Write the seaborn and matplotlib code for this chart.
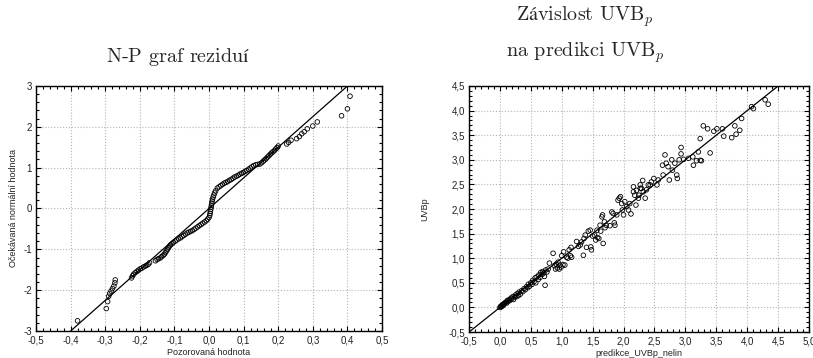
import numpy as np
import pandas as pd
import matplotlib
matplotlib.use("Agg")
import matplotlib.pyplot as plt
import seaborn as sns
from matplotlib.ticker import AutoMinorLocator

# ---------------- data: left panel (normal probability plot of residuals) ----------------
resid_x = [
    -0.380,
    -0.297, -0.293, -0.290, -0.287, -0.283, -0.279, -0.275, -0.272, -0.271,
    -0.224, -0.221, -0.218, -0.213, -0.208, -0.204, -0.199, -0.194, -0.189, -0.184, -0.180, -0.176, -0.172,
    -0.155, -0.150, -0.146, -0.141, -0.137, -0.133, -0.129, -0.126, -0.123, -0.120, -0.117, -0.114, -0.111, -0.107,
    -0.103, -0.098, -0.093, -0.088, -0.083, -0.078, -0.073, -0.068, -0.063, -0.058, -0.053, -0.048, -0.043,
    -0.038, -0.033, -0.028, -0.023, -0.018, -0.013, -0.008, -0.004,
    0.000, 0.002, 0.003, 0.004, 0.005, 0.006, 0.007, 0.008, 0.009, 0.010, 0.012, 0.014, 0.016, 0.019,
    0.024, 0.029, 0.034, 0.039, 0.044, 0.049, 0.054, 0.059, 0.064, 0.069, 0.074, 0.079, 0.084, 0.089,
    0.094, 0.099, 0.104, 0.109, 0.114, 0.119, 0.124, 0.129, 0.135, 0.141,
    0.147, 0.152, 0.157, 0.161, 0.165, 0.169, 0.173, 0.177, 0.181, 0.185, 0.189, 0.193, 0.197, 0.200,
    0.2245, 0.230, 0.237, 0.253, 0.261, 0.268, 0.275, 0.284, 0.300, 0.313, 0.383, 0.400, 0.4075,
]
expected_y = [
    -2.75,
    -2.45, -2.28, -2.15, -2.08, -2.02, -1.96, -1.90, -1.82, -1.75,
    -1.70, -1.65, -1.61, -1.57, -1.54, -1.51, -1.48, -1.46, -1.43, -1.41, -1.39, -1.37, -1.33,
    -1.28, -1.25, -1.23, -1.21, -1.18, -1.15, -1.12, -1.08, -1.04, -1.00, -0.96, -0.92, -0.89, -0.86,
    -0.83, -0.80, -0.77, -0.74, -0.72, -0.69, -0.66, -0.63, -0.60, -0.58, -0.56, -0.54, -0.51,
    -0.48, -0.45, -0.42, -0.39, -0.36, -0.33, -0.30, -0.26,
    -0.22, -0.17, -0.12, -0.07, -0.02, 0.03, 0.08, 0.13, 0.18, 0.23, 0.28, 0.33, 0.38, 0.43,
    0.50, 0.53, 0.56, 0.59, 0.62, 0.64, 0.66, 0.69, 0.71, 0.74, 0.77, 0.79, 0.81, 0.84,
    0.86, 0.88, 0.91, 0.93, 0.96, 0.99, 1.02, 1.05, 1.07, 1.08,
    1.09, 1.12, 1.16, 1.19, 1.22, 1.26, 1.29, 1.33, 1.36, 1.39, 1.42, 1.46, 1.49, 1.53,
    1.58, 1.62, 1.67, 1.71, 1.76, 1.83, 1.88, 1.95, 2.02, 2.12, 2.27, 2.44, 2.75,
]
np_line_x = [-0.4, 0.4]
np_line_y = [-3.0, 3.0]

# ---------------- data: right panel (UVBp vs. prediction) ----------------
pred_x = [
    0.00, 0.01, 0.02, 0.03, 0.04, 0.05, 0.06, 0.07, 0.08, 0.10, 0.11, 0.12, 0.13, 0.15, 0.16, 0.18, 0.19,
    0.21, 0.22, 0.24, 0.25, 0.27, 0.28, 0.30, 0.31, 0.33, 0.35, 0.37, 0.39, 0.41, 0.43, 0.45, 0.46, 0.48,
    0.50, 0.52, 0.53, 0.55, 0.57, 0.58, 0.60, 0.62, 0.63, 0.65, 0.66, 0.68, 0.69, 0.71, 0.72, 0.73, 0.74,
    0.76, 0.78, 0.80,
    0.86, 0.88, 0.90, 0.91, 0.93, 0.94, 0.96, 0.97, 0.99, 1.00, 1.02, 1.03, 1.05, 1.08, 1.10, 1.12, 1.14,
    1.15, 1.16,
    1.24, 1.27, 1.30, 1.32, 1.35, 1.36, 1.38, 1.40, 1.43, 1.46, 1.47, 1.48, 1.50, 1.53, 1.55, 1.57, 1.58,
    1.60, 1.62, 1.63, 1.65, 1.66, 1.67, 1.69, 1.70, 1.72, 1.78, 1.81, 1.83, 1.85, 1.86, 1.89, 1.91, 1.93,
    1.95, 1.97, 1.98, 2.00, 2.02, 2.05, 2.08, 2.10, 2.12,
    2.16, 2.18, 2.16, 2.20, 2.21, 2.24, 2.25, 2.27, 2.27, 2.29, 2.31, 2.32, 2.35, 2.37, 2.40, 2.43, 2.45,
    2.49, 2.54, 2.56, 2.63, 2.64, 2.67, 2.69, 2.72, 2.74, 2.78, 2.79, 2.83, 2.86, 2.87, 2.90, 2.93, 2.93,
    2.97, 3.05, 3.12, 3.13, 3.18, 3.21, 3.24, 3.26,
    3.24, 3.29, 3.36, 3.40, 3.46, 3.51, 3.60, 3.62, 3.75, 3.80, 3.82, 3.88, 3.91, 4.07, 4.10, 4.29, 4.34,
]
uvbp_y = [
    0.00, 0.02, 0.01, 0.04, 0.03, 0.06, 0.05, 0.08, 0.09, 0.11, 0.09, 0.14, 0.12, 0.16, 0.14, 0.19, 0.17,
    0.22, 0.16, 0.21, 0.25, 0.22, 0.28, 0.24, 0.31, 0.27, 0.34, 0.32, 0.38, 0.36, 0.42, 0.40, 0.47, 0.43,
    0.50, 0.47, 0.55, 0.52, 0.60, 0.50, 0.62, 0.57, 0.66, 0.61, 0.71, 0.67, 0.73, 0.70, 0.63, 0.45, 0.76,
    0.72, 0.78, 0.90,
    1.10, 0.85, 0.78, 0.88, 0.80, 0.92, 0.78, 0.86, 0.82, 1.05, 0.87, 1.13, 0.86, 1.02, 1.00, 1.17, 1.05,
    1.22, 1.02,
    1.34, 1.24, 1.27, 1.33, 1.06, 1.40, 1.47, 1.22, 1.55, 1.57, 1.23, 1.17, 1.45, 1.47, 1.37, 1.57, 1.42,
    1.40, 1.67, 1.55, 1.84, 1.88, 1.30, 1.74, 1.62, 1.67, 1.66, 1.94, 1.91, 1.72, 1.67, 1.88, 2.18, 2.22,
    2.25, 2.11, 1.98, 1.88, 2.15, 2.05, 1.98, 2.11, 1.90,
    2.35, 2.28, 2.45, 2.08, 2.38, 2.22, 2.28, 2.49, 2.42, 2.42, 2.58, 2.35, 2.22, 2.39, 2.49, 2.49, 2.55,
    2.62, 2.49, 2.59, 2.89, 2.69, 3.10, 2.93, 2.86, 2.59, 3.00, 2.79, 2.93, 2.69, 2.62, 3.00, 3.12, 3.25,
    3.01, 3.03, 3.06, 2.89, 2.98, 3.16, 2.99, 2.98,
    3.43, 3.69, 3.63, 3.14, 3.58, 3.63, 3.63, 3.48, 3.45, 3.69, 3.52, 3.60, 3.84, 4.08, 4.04, 4.22, 4.13,
]
fit_line_x = [-0.5, 4.5]
fit_line_y = [-0.5, 4.5]

# ---------------- ticks and text ----------------
left_xticks = [-0.5, -0.4, -0.3, -0.2, -0.1, 0.0, 0.1, 0.2, 0.3, 0.4, 0.5]
left_xticklabels = ["-0,5", "-0,4", "-0,3", "-0,2", "-0,1", "0,0", "0,1", "0,2", "0,3", "0,4", "0,5"]
left_yticks = [-3, -2, -1, 0, 1, 2, 3]
left_yticklabels = ["-3", "-2", "-1", "0", "1", "2", "3"]
right_xticks = [-0.5, 0.0, 0.5, 1.0, 1.5, 2.0, 2.5, 3.0, 3.5, 4.0, 4.5, 5.0]
right_xticklabels = ["-0,5", "0,0", "0,5", "1,0", "1,5", "2,0", "2,5", "3,0", "3,5", "4,0", "4,5", "5,0"]
right_yticks = [-0.5, 0.0, 0.5, 1.0, 1.5, 2.0, 2.5, 3.0, 3.5, 4.0, 4.5]
right_yticklabels = ["-0,5", "0,0", "0,5", "1,0", "1,5", "2,0", "2,5", "3,0", "3,5", "4,0", "4,5"]

title_left = r"$\text{N-P graf reziduí}$"
title_right_1 = r"$\text{Závislost UVB}_p$"
title_right_2 = r"$\text{na predikci UVB}_p$"
left_xlabel = "Pozorovaná hodnota"
left_ylabel = "Očekávaná normální hodnota"
right_xlabel = "predikce_UVBp_nelin"
right_ylabel = "UVBp"

# ---------------- style ----------------
sns.set_theme(style="white")
plt.rcParams['font.family'] = ['Liberation Sans', 'DejaVu Sans']
plt.rcParams['mathtext.fontset'] = 'cm'
plt.rcParams['axes.unicode_minus'] = False

fig = plt.figure(figsize=(8.13, 3.58), dpi=100)
ax1 = fig.add_axes([0.0443, 0.0754, 0.4256, 0.6844])
ax2 = fig.add_axes([0.5769, 0.0726, 0.4182, 0.6872])

df_l = pd.DataFrame({"x": resid_x, "y": expected_y})
df_r = pd.DataFrame({"x": pred_x, "y": uvbp_y})

sns.lineplot(x=np_line_x, y=np_line_y, ax=ax1, color="black", linewidth=0.9, sort=False, zorder=2)
sns.scatterplot(data=df_l, x="x", y="y", ax=ax1, marker="o", s=11, color="none",
                edgecolor="black", linewidth=0.6, zorder=3)

sns.lineplot(x=fit_line_x, y=fit_line_y, ax=ax2, color="black", linewidth=0.9, sort=False, zorder=2)
sns.scatterplot(data=df_r, x="x", y="y", ax=ax2, marker="o", s=11, color="none",
                edgecolor="black", linewidth=0.6, zorder=3)

def style_axis(ax, xt, xtl, yt, ytl, xlim, ylim, xlabel, ylabel):
    ax.set_xlim(*xlim)
    ax.set_ylim(*ylim)
    ax.set_xticks(xt)
    ax.set_xticklabels(xtl)
    ax.set_yticks(yt)
    ax.set_yticklabels(ytl)
    ax.xaxis.set_minor_locator(AutoMinorLocator(5))
    ax.yaxis.set_minor_locator(AutoMinorLocator(5))
    ax.tick_params(which="both", direction="in", top=True, right=True, bottom=True, left=True,
                   color="black", width=0.8)
    ax.tick_params(which="major", length=3.5, labelsize=7, pad=3, labelcolor="#222222")
    ax.tick_params(which="minor", length=2)
    ax.grid(True, which="major", color="#b5b5b5", linestyle=":", linewidth=0.8)
    ax.set_axisbelow(True)
    for sp in ax.spines.values():
        sp.set_color("black")
        sp.set_linewidth(1.0)
    ax.set_xlabel(xlabel, fontsize=6.5, labelpad=2, color="#222222")
    ax.set_ylabel(ylabel, fontsize=6.5, labelpad=4, color="#222222")

style_axis(ax1, left_xticks, left_xticklabels, left_yticks, left_yticklabels,
           (-0.5, 0.5), (-3, 3), left_xlabel, left_ylabel)
style_axis(ax2, right_xticks, right_xticklabels, right_yticks, right_yticklabels,
           (-0.5, 5.0), (-0.5, 4.5), right_xlabel, right_ylabel)
ax2.yaxis.labelpad = 14

fig.text(178 / 813, 1 - 57 / 358, title_left, ha="center", va="center", fontsize=14.5)
fig.text(585 / 813, 1 - 17 / 358, title_right_1, ha="center", va="center", fontsize=14.5)
fig.text(585 / 813, 1 - 53 / 358, title_right_2, ha="center", va="center", fontsize=14.5)

fig.savefig("out.png", dpi=100)
